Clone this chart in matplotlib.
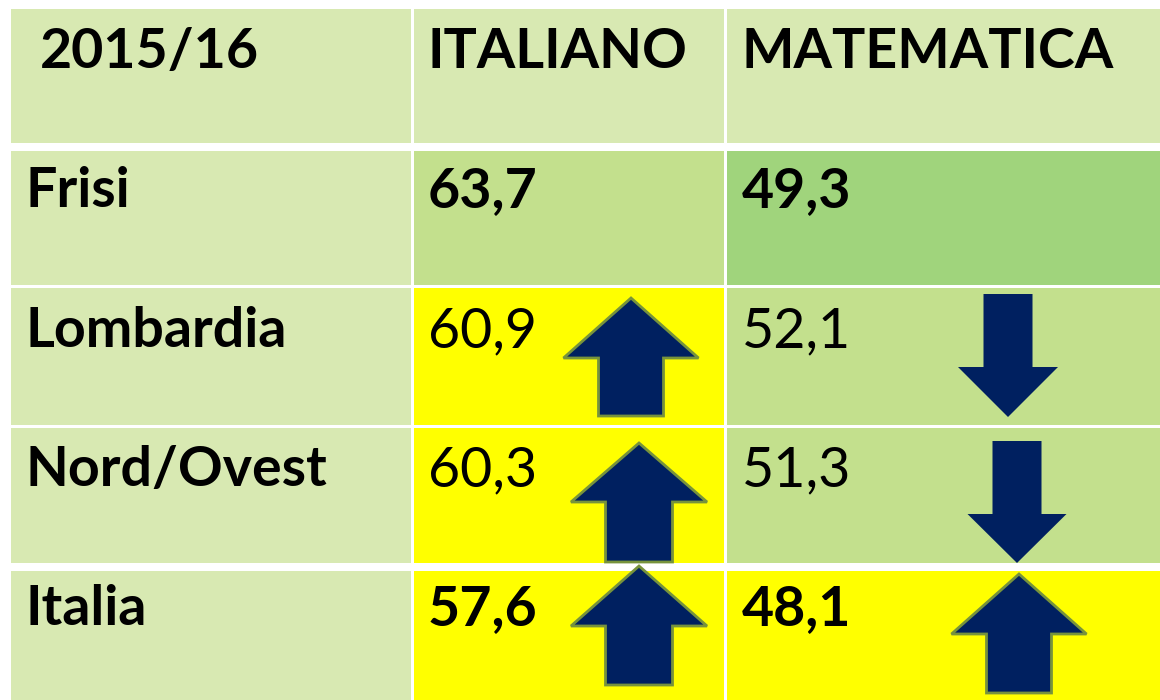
import matplotlib
matplotlib.use('Agg')
import matplotlib.pyplot as plt
from matplotlib.patches import Rectangle, Polygon

# Table content
header = ['2015/16', 'ITALIANO', 'MATEMATICA']
rows = ['Frisi', 'Lombardia', 'Nord/Ovest', 'Italia']
italiano = ['63,7', '60,9', '60,3', '57,6']
matematica = ['49,3', '52,1', '51,3', '48,1']
bold_rows = [True, False, False, True]
ita_trend = [None, 'up', 'up', 'up']
mat_trend = [None, 'down', 'down', 'up']

# Cell colours
c_head = '#D8E9B2'
c_light = '#C3E08D'
c_dark = '#A0D47C'
c_yellow = '#FFFF00'
ita_colors = [c_light, c_yellow, c_yellow, c_yellow]
mat_colors = [c_dark, c_light, c_light, c_yellow]
navy = '#002060'
olive = '#77933C'

W, H = 1160, 700
fig = plt.figure(figsize=(W / 100, H / 100), dpi=100)
ax = fig.add_axes([0, 0, 1, 1])
ax.set_xlim(0, W)
ax.set_ylim(H, 0)
ax.axis('off')

# pixel layout of the grid
col_x = [(11, 411), (414, 724), (727, 1160)]
row_y = [(9, 143), (151, 285), (288, 425), (428, 563), (571, 700)]
font = ['Lato', 'DejaVu Sans']
fs = 40


def cell(x0, x1, y0, y1, color):
    ax.add_patch(Rectangle((x0, y0), x1 - x0, y1 - y0, facecolor=color, edgecolor='none'))


def arrow(cx, top, bottom, head_w, shaft_w, head_len, direction, edge):
    if direction == 'up':
        hb = top + head_len
        pts = [(cx, top), (cx + head_w / 2, hb), (cx + shaft_w / 2, hb),
               (cx + shaft_w / 2, bottom), (cx - shaft_w / 2, bottom),
               (cx - shaft_w / 2, hb), (cx - head_w / 2, hb)]
    else:
        hb = bottom - head_len
        pts = [(cx, bottom), (cx + head_w / 2, hb), (cx + shaft_w / 2, hb),
               (cx + shaft_w / 2, top), (cx - shaft_w / 2, top),
               (cx - shaft_w / 2, hb), (cx - head_w / 2, hb)]
    lw = 2.0 if edge else 0
    ax.add_patch(Polygon(pts, closed=True, facecolor=navy,
                         edgecolor=edge if edge else navy, linewidth=lw, zorder=3))


# header row
y0, y1 = row_y[0]
for j, (x0, x1) in enumerate(col_x):
    cell(x0, x1, y0, y1, c_head)
ax.text(40, 68, header[0], fontsize=fs, fontweight='bold', family=font, va='baseline')
ax.text(428, 68, header[1], fontsize=fs, fontweight='bold', family=font, va='baseline')
ax.text(742, 68, header[2], fontsize=fs, fontweight='bold', family=font, va='baseline')

baselines = [207, 347, 486, 625]
for i, name in enumerate(rows):
    y0, y1 = row_y[i + 1]
    cell(col_x[0][0], col_x[0][1], y0, y1, c_head)
    cell(col_x[1][0], col_x[1][1], y0, y1, ita_colors[i])
    cell(col_x[2][0], col_x[2][1], y0, y1, mat_colors[i])
    ax.text(26, baselines[i], name, fontsize=fs, fontweight='bold', family=font, va='baseline')
    w = 'bold' if bold_rows[i] else 'normal'
    ax.text(428, baselines[i], italiano[i], fontsize=fs, fontweight=w, family=font, va='baseline')
    ax.text(742, baselines[i], matematica[i], fontsize=fs, fontweight=w, family=font, va='baseline')

# trend arrows (pixel geometry per row)
ita_geom = [None, (631, 298, 416, 135, 65, 60), (639, 443, 562, 136, 67, 59),
            (639, 566, 685, 136, 67, 60)]
mat_geom = [None, (1008, 294, 417, 100, 49, 50), (1017, 441, 563, 99, 49, 49),
            (1019, 574, 693, 135, 65, 60)]
for i in range(len(rows)):
    if ita_trend[i]:
        arrow(*ita_geom[i], ita_trend[i], olive if ita_trend[i] == 'up' else None)
    if mat_trend[i]:
        arrow(*mat_geom[i], mat_trend[i], olive if mat_trend[i] == 'up' else None)

fig.savefig('out.png', dpi=100, facecolor='white')
